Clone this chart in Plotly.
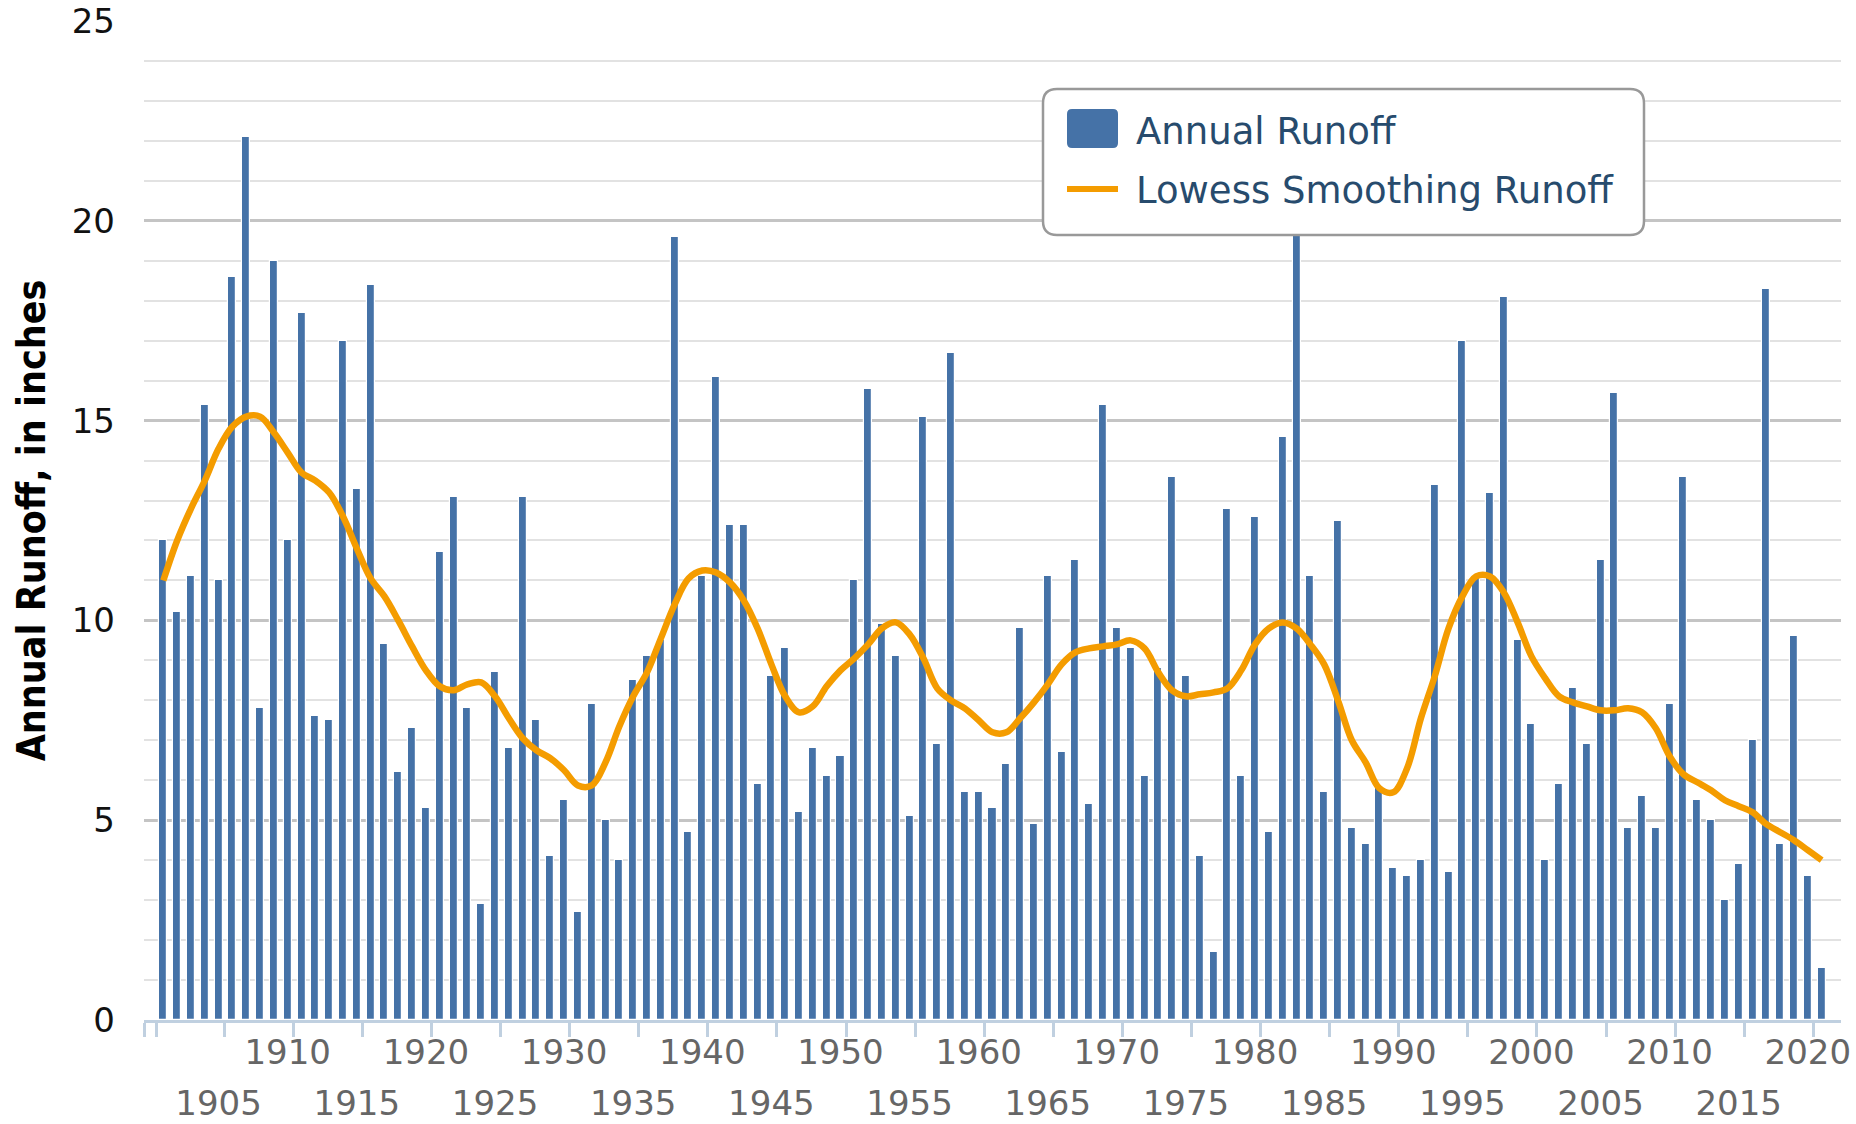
import plotly.graph_objects as go

years = list(range(1901, 2022))

annual_runoff = [
    12.0, 10.2, 11.1, 15.4, 11.0, 18.6, 22.1, 7.8, 19.0, 12.0,   # 1901-1910
    17.7, 7.6, 7.5, 17.0, 13.3, 18.4, 9.4, 6.2, 7.3, 5.3,        # 1911-1920
    11.7, 13.1, 7.8, 2.9, 8.7, 6.8, 13.1, 7.5, 4.1, 5.5,         # 1921-1930
    2.7, 7.9, 5.0, 4.0, 8.5, 9.1, 9.5, 19.6, 4.7, 11.1,          # 1931-1940
    16.1, 12.4, 12.4, 5.9, 8.6, 9.3, 5.2, 6.8, 6.1, 6.6,         # 1941-1950
    11.0, 15.8, 9.9, 9.1, 5.1, 15.1, 6.9, 16.7, 5.7, 5.7,        # 1951-1960
    5.3, 6.4, 9.8, 4.9, 11.1, 6.7, 11.5, 5.4, 15.4, 9.8,         # 1961-1970
    9.3, 6.1, 8.8, 13.6, 8.6, 4.1, 1.7, 12.8, 6.1, 12.6,         # 1971-1980
    4.7, 14.6, 21.0, 11.1, 5.7, 12.5, 4.8, 4.4, 5.8, 3.8,        # 1981-1990
    3.6, 4.0, 13.4, 3.7, 17.0, 11.1, 13.2, 18.1, 9.5, 7.4,       # 1991-2000
    4.0, 5.9, 8.3, 6.9, 11.5, 15.7, 4.8, 5.6, 4.8, 7.9,          # 2001-2010
    13.6, 5.5, 5.0, 3.0, 3.9, 7.0, 18.3, 4.4, 9.6, 3.6,          # 2011-2020
    1.3,                                                          # 2021
]

lowess_runoff = [
    11.0, 12.0, 12.8, 13.5, 14.3, 14.85, 15.1, 15.1, 14.7, 14.2,  # 1901-1910
    13.7, 13.5, 13.2, 12.6, 11.8, 11.05, 10.6, 10.0, 9.35, 8.75,  # 1911-1920
    8.35, 8.25, 8.4, 8.45, 8.1, 7.55, 7.05, 6.75, 6.55, 6.25,     # 1921-1930
    5.87, 5.87, 6.45, 7.35, 8.1, 8.7, 9.55, 10.4, 11.05, 11.25,   # 1931-1940
    11.2, 10.95, 10.5, 9.8, 8.9, 8.1, 7.7, 7.85, 8.35, 8.75,      # 1941-1950
    9.05, 9.4, 9.8, 9.95, 9.65, 9.05, 8.3, 8.0, 7.8, 7.5,         # 1951-1960
    7.2, 7.2, 7.55, 7.95, 8.4, 8.9, 9.2, 9.3, 9.35, 9.4,          # 1961-1970
    9.5, 9.3, 8.7, 8.25, 8.1, 8.15, 8.2, 8.3, 8.75, 9.4,          # 1971-1980
    9.8, 9.95, 9.8, 9.4, 8.9, 8.0, 7.0, 6.45, 5.8, 5.7,           # 1981-1990
    6.3, 7.55, 8.6, 9.8, 10.6, 11.1, 11.1, 10.7, 9.95, 9.1,       # 1991-2000
    8.55, 8.1, 7.95, 7.85, 7.75, 7.75, 7.8, 7.7, 7.3, 6.6,        # 2001-2010
    6.15, 5.95, 5.75, 5.5, 5.35, 5.2, 4.9, 4.7, 4.5, 4.25,        # 2011-2020
    4.0,                                                           # 2021
]

upper_label_years = list(range(1910, 2021, 10))
lower_label_years = list(range(1905, 2016, 10))
y_ticks = [0, 5, 10, 15, 20, 25]

BAR_COLOR = "#4572A7"
LINE_COLOR = "#F49C00"
AXIS_COLOR = "#C0D0E0"
FONT = "DejaVu Sans"
CLEAR = "rgba(0,0,0,0)"

W, H = 1856, 1124
ML, MR, MT, MB = 144, 15, 21, 104
PW, PH = W - ML - MR, H - MT - MB


def px_x(v):
    return (v - ML) / PW


def px_y(v):
    return (MT + PH - v) / PH


def rounded_rect(xa, ya, xb, yb, r):
    """Rounded rectangle path in paper coords from pixel corners."""
    x0, x1 = px_x(xa), px_x(xb)
    y1, y0 = px_y(ya), px_y(yb)
    rx, ry = r / PW, r / PH
    return (f"M{x0+rx},{y1} L{x1-rx},{y1} Q{x1},{y1} {x1},{y1-ry} L{x1},{y0+ry} "
            f"Q{x1},{y0} {x1-rx},{y0} L{x0+rx},{y0} Q{x0},{y0} {x0},{y0+ry} "
            f"L{x0},{y1-ry} Q{x0},{y1} {x0+rx},{y1} Z")


fig = go.Figure()

fig.add_trace(go.Bar(
    x=years, y=annual_runoff, name="Annual Runoff",
    marker=dict(color=BAR_COLOR, line=dict(color="white", width=1.2)),
    width=0.58, showlegend=False, legendgroup="runoff",
))
fig.add_trace(go.Scatter(
    x=years, y=lowess_runoff, name="Lowess Smoothing Runoff", mode="lines",
    line=dict(color=LINE_COLOR, width=6.5, shape="spline", smoothing=1),
    xaxis="x2", showlegend=False, legendgroup="lowess",
))
# legend entries (their swatches are drawn below as shapes, at the reference size)
fig.add_trace(go.Scatter(
    x=[None], y=[None], mode="markers", name="Annual Runoff",
    marker=dict(color=CLEAR), legendgroup="runoff", showlegend=True,
))
fig.add_trace(go.Scatter(
    x=[None], y=[None], mode="lines", name="Lowess Smoothing Runoff",
    line=dict(color=CLEAR), legendgroup="lowess", showlegend=True,
))

xr = [1899.6, 2022.4]
tick_marks = [1899.65, 1900.5] + [y + 0.4 for y in range(1905, 2021, 5)]

fig.update_layout(
    width=W, height=H,
    margin=dict(l=ML, r=MR, t=MT, b=MB, pad=0, autoexpand=False),
    paper_bgcolor="white", plot_bgcolor="white",
    font=dict(family=FONT),
    bargap=0,
    xaxis=dict(
        range=xr, showgrid=False, zeroline=False, automargin=False,
        showline=True, linecolor=AXIS_COLOR, linewidth=3,
        ticks="", tickvals=upper_label_years,
        ticktext=[str(v) for v in upper_label_years],
        tickfont=dict(size=34, color="#666666", family=FONT),
        ticklabelstandoff=0,
        minor=dict(tickmode="array", tickvals=tick_marks, ticks="outside",
                   ticklen=14, tickwidth=3, tickcolor=AXIS_COLOR, showgrid=False),
    ),
    xaxis2=dict(
        range=xr, overlaying="x", anchor="y", side="bottom", automargin=False,
        showgrid=False, zeroline=False, showline=False, ticks="",
        tickvals=lower_label_years, ticktext=[str(v) for v in lower_label_years],
        tickfont=dict(size=34, color="#666666", family=FONT),
        ticklabelstandoff=60,
    ),
    yaxis=dict(
        range=[0, 25], tickvals=y_ticks, showgrid=True, automargin=False,
        gridcolor="#C4C4C4", gridwidth=2.5, zeroline=False, showline=False,
        ticks="", tickfont=dict(size=34, color="#111111", family=FONT),
        ticklabelstandoff=28,
        minor=dict(dtick=1, showgrid=True, gridcolor="#E2E2E2", gridwidth=2),
        title=dict(
            text="Annual Runoff, in inches", standoff=14,
            font=dict(size=39, color="#000000",
                      family="Liberation Sans Narrow, DejaVu Sans Condensed, Arial Narrow",
                      weight="bold"),
        ),
    ),
    legend=dict(
        x=px_x(1081), y=px_y(99), xanchor="left", yanchor="top",
        bgcolor=CLEAR, borderwidth=0,
        font=dict(size=37, color="#274B6D", family=FONT),
        itemwidth=45, tracegroupgap=8, traceorder="grouped",
        itemclick="toggle",
    ),
)

# rounded legend frame, drawn over the bars
fig.add_shape(type="path", path=rounded_rect(1043, 89, 1644, 235, 14),
              xref="paper", yref="paper", fillcolor="white",
              line=dict(color="#999999", width=2.5), layer="above")
# legend swatches
fig.add_shape(type="path", path=rounded_rect(1067, 109, 1118, 148, 5),
              xref="paper", yref="paper", fillcolor=BAR_COLOR,
              line=dict(width=0), layer="above")
fig.add_shape(type="line", x0=px_x(1067), x1=px_x(1118), y0=px_y(189), y1=px_y(189),
              xref="paper", yref="paper", line=dict(color=LINE_COLOR, width=6),
              layer="above")

fig.write_html("out.html", config={"displayModeBar": False},
               post_script="document.body.style.margin='0';")
